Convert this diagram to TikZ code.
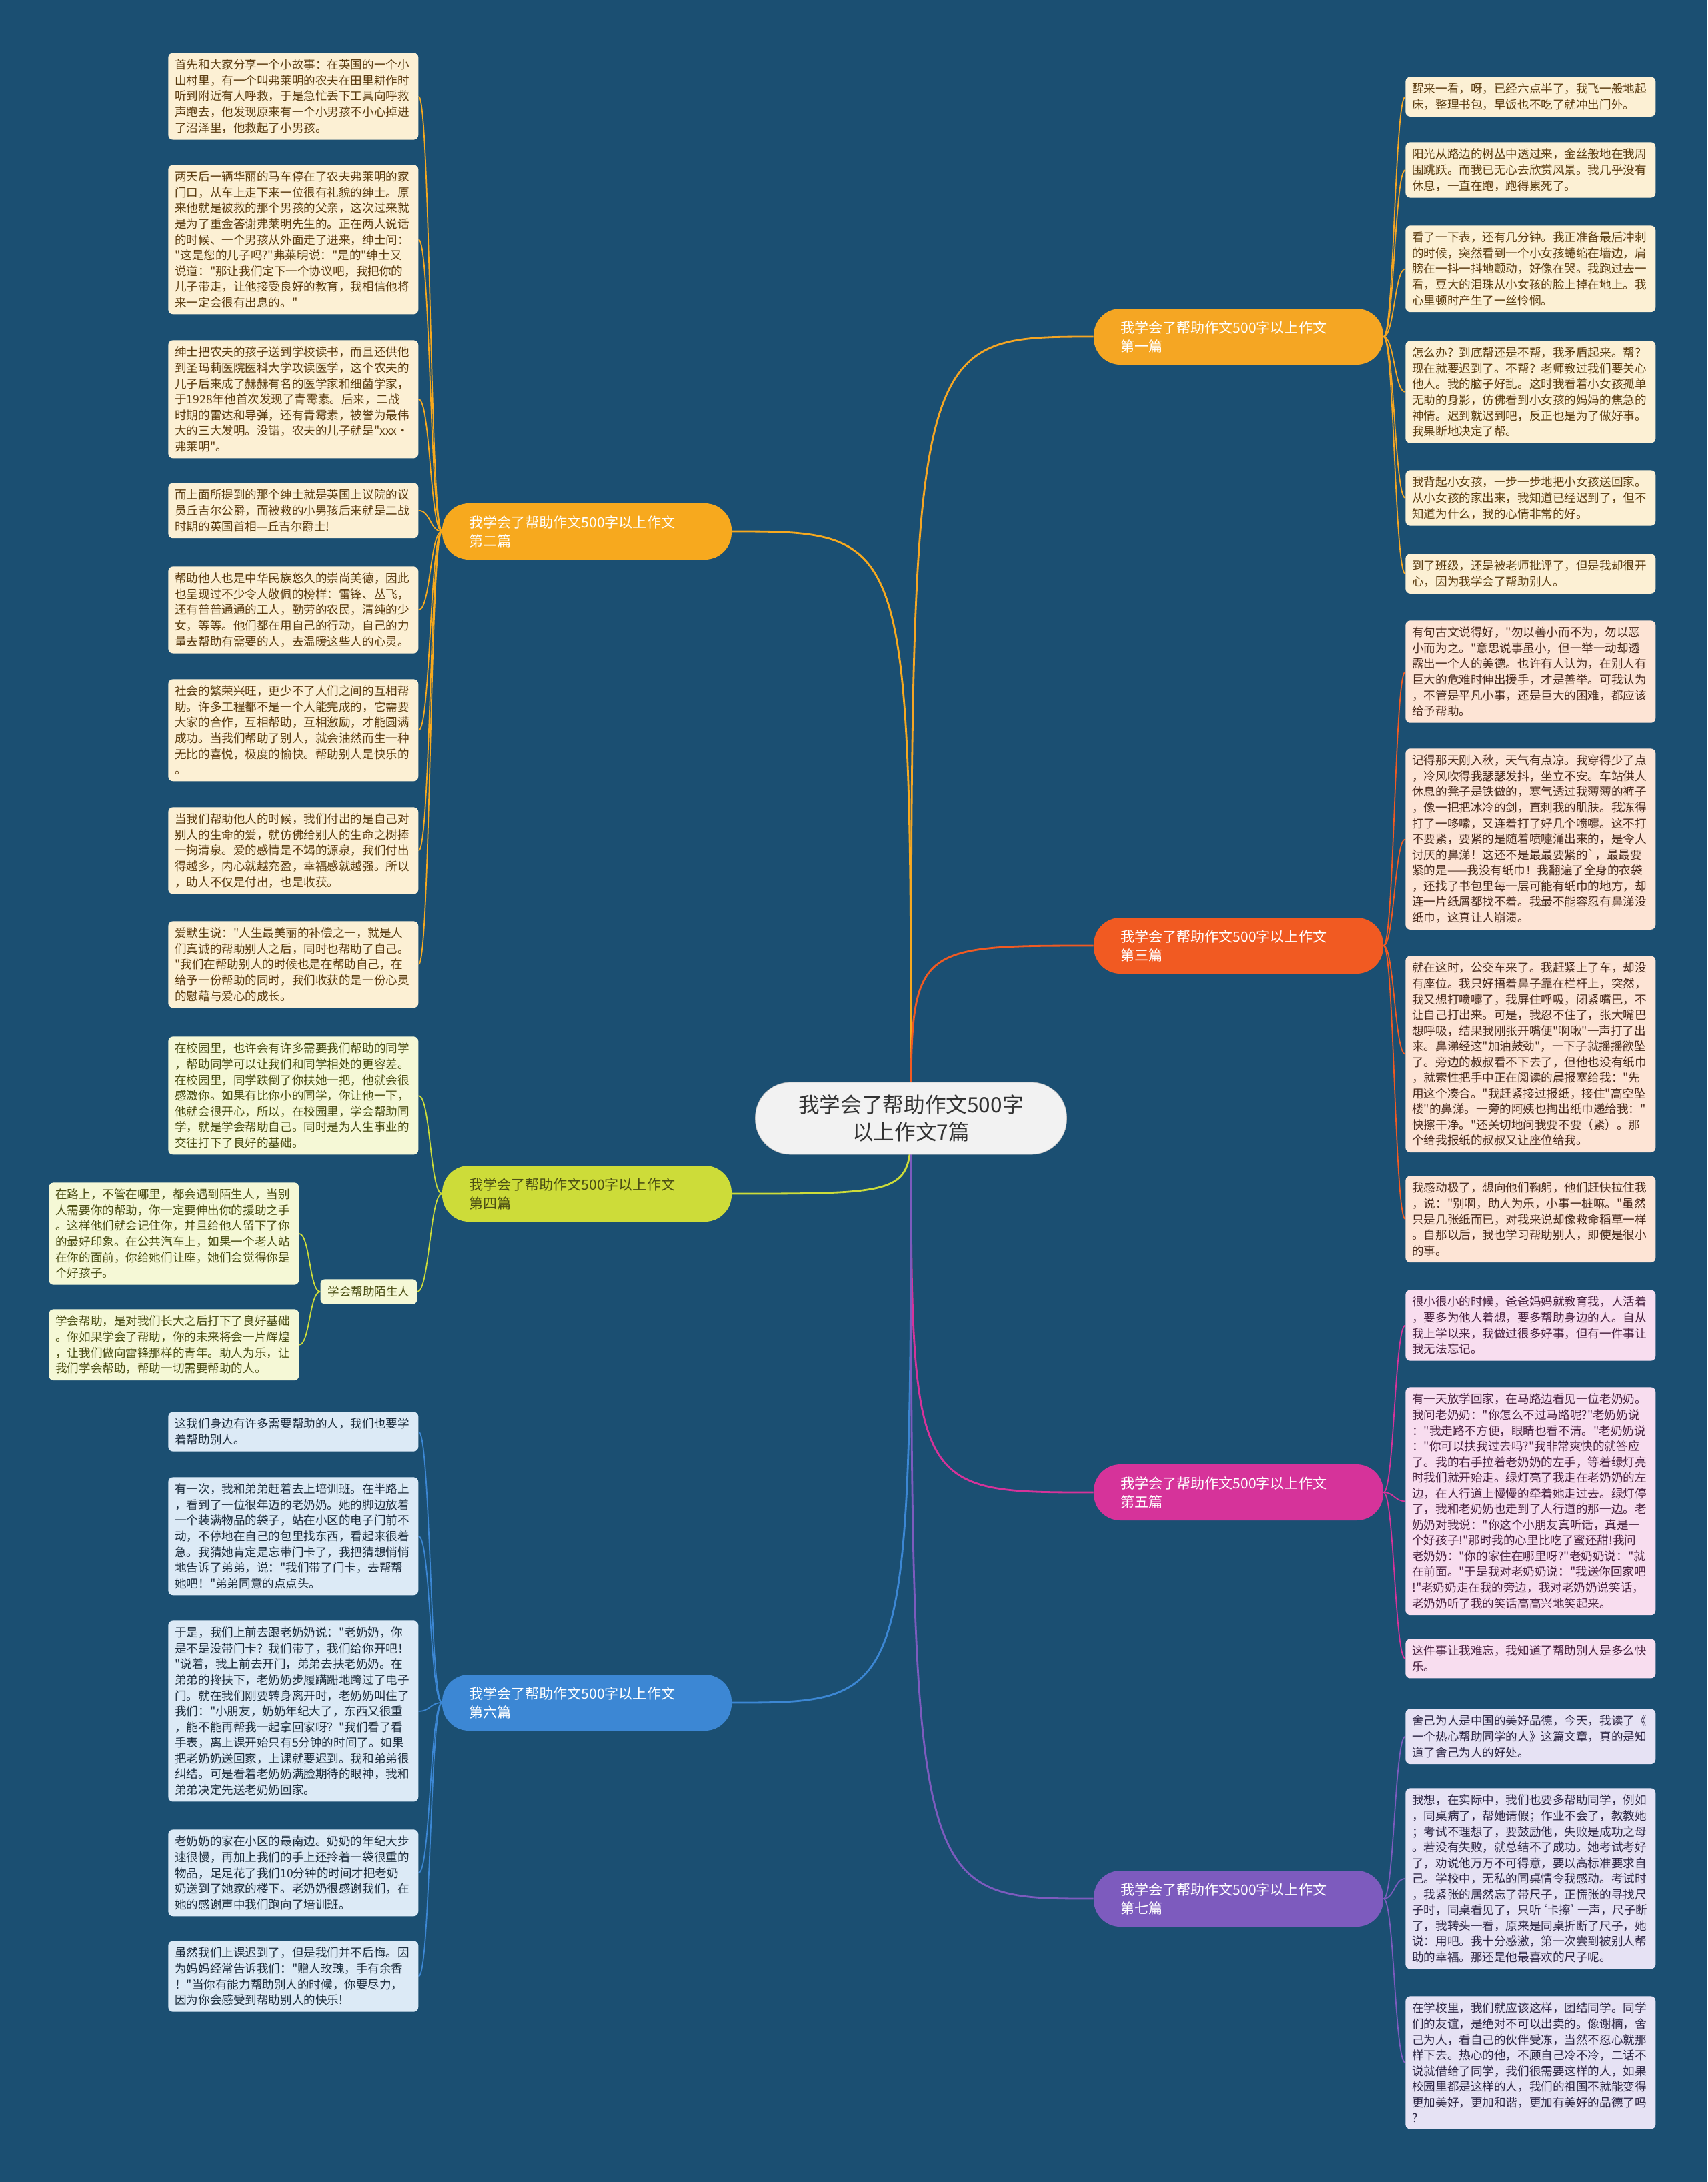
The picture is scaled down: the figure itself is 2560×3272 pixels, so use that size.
\documentclass[tikz,border=0pt]{standalone}
\usepackage{fontspec}
\setmainfont{Noto Sans CJK SC}[Ligatures=TeXOff]
\definecolor{bgblue}{HTML}{1B4F72}
\definecolor{rootfill}{HTML}{F2F2F2}
\definecolor{roottext}{HTML}{333333}
\definecolor{c1}{HTML}{F5A623}
\definecolor{c2}{HTML}{F7A91E}
\definecolor{c3}{HTML}{F15A22}
\definecolor{c4}{HTML}{CDDC39}
\definecolor{c5}{HTML}{D6339A}
\definecolor{c6}{HTML}{3C87D4}
\definecolor{c7}{HTML}{7D5BBE}
\definecolor{fillA}{HTML}{FCF0D4}
\definecolor{textA}{HTML}{5C3D11}
\definecolor{fillC}{HTML}{FDE4D5}
\definecolor{textC}{HTML}{4A2C1F}
\definecolor{fillD}{HTML}{F5F8D6}
\definecolor{textD}{HTML}{4B4E14}
\definecolor{fillE}{HTML}{F8DDEF}
\definecolor{textE}{HTML}{4A2341}
\definecolor{fillF}{HTML}{DCEAF6}
\definecolor{textF}{HTML}{1F2F3F}
\definecolor{fillG}{HTML}{E6E2F4}
\definecolor{textG}{HTML}{2F2846}
\pgfdeclarelayer{edges}
\pgfsetlayers{edges,main}
\tikzset{
  leaf/.style={anchor=north west, rounded corners=4pt, text width=7.1cm,
    inner xsep=0.2cm, inner ysep=5.5pt, align=left,
    font=\fontsize{10}{13.4}\selectfont},
  leafA/.style={leaf, fill=fillA, text=textA},
  leafC/.style={leaf, fill=fillC, text=textC},
  leafD/.style={leaf, fill=fillD, text=textD},
  leafE/.style={leaf, fill=fillE, text=textE},
  leafF/.style={leaf, fill=fillF, text=textF},
  leafG/.style={leaf, fill=fillG, text=textG},
  topic/.style={minimum width=8.68cm, minimum height=1.68cm, rounded corners=0.8cm,
    text width=7.08cm, inner xsep=0.8cm, align=left,
    font=\fontsize{12}{16}\selectfont, text=white},
  root/.style={fill=rootfill, draw=gray!50, minimum width=9.34cm, minimum height=2.16cm,
    rounded corners=1.05cm, align=center, text=roottext,
    font=\fontsize{18}{23}\selectfont},
  trunk/.style={line width=1.6pt},
  twig/.style={line width=1pt},
}
\begin{document}
\begin{tikzpicture}[x=0.02cm, y=-0.02cm]
\useasboundingbox (0,0) rectangle (2560,3272);
\begin{pgfonlayer}{edges}
\fill[bgblue] (0,0) rectangle (2560,3272);
\end{pgfonlayer}

\node[root] (r) at (1366,1677) {我学会了帮助作文500字\\以上作文7篇};

\node[topic, fill=c1] (p1) at (1857,505) {我学会了帮助作文500字以上作文\\第一篇};
\node[topic, fill=c2] (p2) at (880,797) {我学会了帮助作文500字以上作文\\第二篇};
\node[topic, fill=c3] (p3) at (1857,1418) {我学会了帮助作文500字以上作文\\第三篇};
\node[topic, fill=c4, text=textD] (p4) at (880,1790) {我学会了帮助作文500字以上作文\\第四篇};
\node[topic, fill=c5] (p5) at (1857,2238) {我学会了帮助作文500字以上作文\\第五篇};
\node[topic, fill=c6] (p6) at (880,2553) {我学会了帮助作文500字以上作文\\第六篇};
\node[topic, fill=c7] (p7) at (1857,2847) {我学会了帮助作文500字以上作文\\第七篇};

% 第一篇
\node[leafA] (p1-1) at (2107,115) {醒来一看，呀，已经六点半了，我飞一般地起\\床，整理书包，早饭也不吃了就冲出门外。};
\node[leafA] (p1-2) at (2107,213) {阳光从路边的树丛中透过来，金丝般地在我周\\围跳跃。而我已无心去欣赏风景。我几乎没有\\休息，一直在跑，跑得累死了。};
\node[leafA] (p1-3) at (2107,338) {看了一下表，还有几分钟。我正准备最后冲刺\\的时候，突然看到一个小女孩蜷缩在墙边，肩\\膀在一抖一抖地颤动，好像在哭。我跑过去一\\看，豆大的泪珠从小女孩的脸上掉在地上。我\\心里顿时产生了一丝怜悯。};
\node[leafA] (p1-4) at (2107,511) {怎么办？到底帮还是不帮，我矛盾起来。帮？\\现在就要迟到了。不帮？老师教过我们要关心\\他人。我的脑子好乱。这时我看着小女孩孤单\\无助的身影，仿佛看到小女孩的妈妈的焦急的\\神情。迟到就迟到吧，反正也是为了做好事。\\我果断地决定了帮。};
\node[leafA] (p1-5) at (2107,705) {我背起小女孩，一步一步地把小女孩送回家。\\从小女孩的家出来，我知道已经迟到了，但不\\知道为什么，我的心情非常的好。};
\node[leafA] (p1-6) at (2107,830) {到了班级，还是被老师批评了，但是我却很开\\心，因为我学会了帮助别人。};

% 第二篇
\node[leafA] (p2-1) at (252,79) {首先和大家分享一个小故事：在英国的一个小\\山村里，有一个叫弗莱明的农夫在田里耕作时\\听到附近有人呼救，于是急忙丢下工具向呼救\\声跑去，他发现原来有一个小男孩不小心掉进\\了沼泽里，他救起了小男孩。};
\node[leafA] (p2-2) at (252,247) {两天后一辆华丽的马车停在了农夫弗莱明的家\\门口，从车上走下来一位很有礼貌的绅士。原\\来他就是被救的那个男孩的父亲，这次过来就\\是为了重金答谢弗莱明先生的。正在两人说话\\的时候、一个男孩从外面走了进来，绅士问：\\"这是您的儿子吗?"弗莱明说："是的"绅士又\\说道："那让我们定下一个协议吧，我把你的\\儿子带走，让他接受良好的教育，我相信他将\\来一定会很有出息的。"};
\node[leafA] (p2-3) at (252,510) {绅士把农夫的孩子送到学校读书，而且还供他\\到圣玛莉医院医科大学攻读医学，这个农夫的\\儿子后来成了赫赫有名的医学家和细菌学家，\\于1928年他首次发现了青霉素。后来，二战\\时期的雷达和导弹，还有青霉素，被誉为最伟\\大的三大发明。没错，农夫的儿子就是"xxx·\\弗莱明"。};
\node[leafA] (p2-4) at (252,724) {而上面所提到的那个绅士就是英国上议院的议\\员丘吉尔公爵，而被救的小男孩后来就是二战\\时期的英国首相—丘吉尔爵士!};
\node[leafA] (p2-5) at (252,849) {帮助他人也是中华民族悠久的崇尚美德，因此\\也呈现过不少令人敬佩的榜样：雷锋、丛飞，\\还有普普通通的工人，勤劳的农民，清纯的少\\女，等等。他们都在用自己的行动，自己的力\\量去帮助有需要的人，去温暖这些人的心灵。};
\node[leafA] (p2-6) at (252,1018) {社会的繁荣兴旺，更少不了人们之间的互相帮\\助。许多工程都不是一个人能完成的，它需要\\大家的合作，互相帮助，互相激励，才能圆满\\成功。当我们帮助了别人，就会油然而生一种\\无比的喜悦，极度的愉快。帮助别人是快乐的\\。};
\node[leafA] (p2-7) at (252,1210) {当我们帮助他人的时候，我们付出的是自己对\\别人的生命的爱，就仿佛给别人的生命之树捧\\一掬清泉。爱的感情是不竭的源泉，我们付出\\得越多，内心就越充盈，幸福感就越强。所以\\，助人不仅是付出，也是收获。};
\node[leafA] (p2-8) at (252,1381) {爱默生说："人生最美丽的补偿之一，就是人\\们真诚的帮助别人之后，同时也帮助了自己。\\"我们在帮助别人的时候也是在帮助自己，在\\给予一份帮助的同时，我们收获的是一份心灵\\的慰藉与爱心的成长。};

% 第三篇
\node[leafC] (p3-1) at (2107,930) {有句古文说得好，"勿以善小而不为，勿以恶\\小而为之。"意思说事虽小，但一举一动却透\\露出一个人的美德。也许有人认为，在别人有\\巨大的危难时伸出援手，才是善举。可我认为\\，不管是平凡小事，还是巨大的困难，都应该\\给予帮助。};
\node[leafC] (p3-2) at (2107,1122) {记得那天刚入秋，天气有点凉。我穿得少了点\\，冷风吹得我瑟瑟发抖，坐立不安。车站供人\\休息的凳子是铁做的，寒气透过我薄薄的裤子\\，像一把把冰冷的剑，直刺我的肌肤。我冻得\\打了一哆嗦，又连着打了好几个喷嚏。这不打\\不要紧，要紧的是随着喷嚏涌出来的，是令人\\讨厌的鼻涕！这还不是最最要紧的\textasciigrave，最最要\\紧的是——我没有纸巾！我翻遍了全身的衣袋\\，还找了书包里每一层可能有纸巾的地方，却\\连一片纸屑都找不着。我最不能容忍有鼻涕没\\纸巾，这真让人崩溃。};
\node[leafC] (p3-3) at (2107,1433) {就在这时，公交车来了。我赶紧上了车，却没\\有座位。我只好捂着鼻子靠在栏杆上，突然，\\我又想打喷嚏了，我屏住呼吸，闭紧嘴巴，不\\让自己打出来。可是，我忍不住了，张大嘴巴\\想呼吸，结果我刚张开嘴便"啊啾"一声打了出\\来。鼻涕经这"加油鼓劲"，一下子就摇摇欲坠\\了。旁边的叔叔看不下去了，但他也没有纸巾\\，就索性把手中正在阅读的晨报塞给我："先\\用这个凑合。"我赶紧接过报纸，接住"高空坠\\楼"的鼻涕。一旁的阿姨也掏出纸巾递给我："\\快擦干净。"还关切地问我要不要（紧）。那\\个给我报纸的叔叔又让座位给我。};
\node[leafC] (p3-4) at (2107,1763) {我感动极了，想向他们鞠躬，他们赶快拉住我\\，说："别啊，助人为乐，小事一桩嘛。"虽然\\只是几张纸而已，对我来说却像救命稻草一样\\。自那以后，我也学习帮助别人，即使是很小\\的事。};

% 第四篇
\node[leafD] (p4-1) at (252,1554) {在校园里，也许会有许多需要我们帮助的同学\\，帮助同学可以让我们和同学相处的更容差。\\在校园里，同学跌倒了你扶她一把，他就会很\\感激你。如果有比你小的同学，你让他一下，\\他就会很开心，所以，在校园里，学会帮助同\\学，就是学会帮助自己。同时是为人生事业的\\交往打下了良好的基础。};
\node[fill=fillD, text=textD, rounded corners=4pt, inner xsep=0.22cm, inner ysep=6pt,
  font=\fontsize{10}{13.4}\selectfont] (lab) at (553,1937) {学会帮助陌生人};
\node[leafD] (p4-2) at (73,1773) {在路上，不管在哪里，都会遇到陌生人，当别\\人需要你的帮助，你一定要伸出你的援助之手\\。这样他们就会记住你，并且给他人留下了你\\的最好印象。在公共汽车上，如果一个老人站\\在你的面前，你给她们让座，她们会觉得你是\\个好孩子。};
\node[leafD] (p4-3) at (73,1963) {学会帮助，是对我们长大之后打下了良好基础\\。你如果学会了帮助，你的未来将会一片辉煌\\，让我们做向雷锋那样的青年。助人为乐，让\\我们学会帮助，帮助一切需要帮助的人。};

% 第五篇
\node[leafE] (p5-1) at (2107,1934) {很小很小的时候，爸爸妈妈就教育我，人活着\\，要多为他人着想，要多帮助身边的人。自从\\我上学以来，我做过很多好事，但有一件事让\\我无法忘记。};
\node[leafE] (p5-2) at (2107,2080) {有一天放学回家，在马路边看见一位老奶奶。\\我问老奶奶："你怎么不过马路呢?"老奶奶说\\："我走路不方便，眼睛也看不清。"老奶奶说\\："你可以扶我过去吗?"我非常爽快的就答应\\了。我的右手拉着老奶奶的左手，等着绿灯亮\\时我们就开始走。绿灯亮了我走在老奶奶的左\\边，在人行道上慢慢的牵着她走过去。绿灯停\\了，我和老奶奶也走到了人行道的那一边。老\\奶奶对我说："你这个小朋友真听话，真是一\\个好孩子!"那时我的心里比吃了蜜还甜!我问\\老奶奶："你的家住在哪里呀?"老奶奶说："就\\在前面。"于是我对老奶奶说："我送你回家吧\\!"老奶奶走在我的旁边，我对老奶奶说笑话，\\老奶奶听了我的笑话高高兴地笑起来。};
\node[leafE] (p5-3) at (2107,2457) {这件事让我难忘，我知道了帮助别人是多么快\\乐。};

% 第六篇
\node[leafF] (p6-1) at (252,2117) {这我们身边有许多需要帮助的人，我们也要学\\着帮助别人。};
\node[leafF] (p6-2) at (252,2215) {有一次，我和弟弟赶着去上培训班。在半路上\\，看到了一位很年迈的老奶奶。她的脚边放着\\一个装满物品的袋子，站在小区的电子门前不\\动，不停地在自己的包里找东西，看起来很着\\急。我猜她肯定是忘带门卡了，我把猜想悄悄\\地告诉了弟弟，说："我们带了门卡，去帮帮\\她吧！"弟弟同意的点点头。};
\node[leafF] (p6-3) at (252,2430) {于是，我们上前去跟老奶奶说："老奶奶，你\\是不是没带门卡？我们带了，我们给你开吧！\\"说着，我上前去开门，弟弟去扶老奶奶。在\\弟弟的搀扶下，老奶奶步履蹒跚地跨过了电子\\门。就在我们刚要转身离开时，老奶奶叫住了\\我们："小朋友，奶奶年纪大了，东西又很重\\，能不能再帮我一起拿回家呀？"我们看了看\\手表，离上课开始只有5分钟的时间了。如果\\把老奶奶送回家，上课就要迟到。我和弟弟很\\纠结。可是看着老奶奶满脸期待的眼神，我和\\弟弟决定先送老奶奶回家。};
\node[leafF] (p6-4) at (252,2743) {老奶奶的家在小区的最南边。奶奶的年纪大步\\速很慢，再加上我们的手上还拎着一袋很重的\\物品，足足花了我们10分钟的时间才把老奶\\奶送到了她家的楼下。老奶奶很感谢我们，在\\她的感谢声中我们跑向了培训班。};
\node[leafF] (p6-5) at (252,2910) {虽然我们上课迟到了，但是我们并不后悔。因\\为妈妈经常告诉我们："赠人玫瑰，手有余香\\！"当你有能力帮助别人的时候，你要尽力，\\因为你会感受到帮助别人的快乐!};

% 第七篇
\node[leafG] (p7-1) at (2107,2562) {舍己为人是中国的美好品德，今天，我读了《\\一个热心帮助同学的人》这篇文章，真的是知\\道了舍己为人的好处。};
\node[leafG] (p7-2) at (2107,2681) {我想，在实际中，我们也要多帮助同学，例如\\，同桌病了，帮她请假；作业不会了，教教她\\；考试不理想了，要鼓励他，失败是成功之母\\。若没有失败，就总结不了成功。她考试考好\\了，劝说他万万不可得意，要以高标准要求自\\己。学校中，无私的同桌情令我感动。考试时\\，我紧张的居然忘了带尺子，正慌张的寻找尺\\子时，同桌看见了，只听\kern-0.45em‘卡擦’\kern-0.45em一声，尺子断\\了，我转头一看，原来是同桌折断了尺子，她\\说：用吧。我十分感激，第一次尝到被别人帮\\助的幸福。那还是他最喜欢的尺子呢。};
\node[leafG] (p7-3) at (2107,2993) {在学校里，我们就应该这样，团结同学。同学\\们的友谊，是绝对不可以出卖的。像谢楠，舍\\己为人，看自己的伙伴受冻，当然不忍心就那\\样下去。热心的他，不顾自己冷不冷，二话不\\说就借给了同学，我们很需要这样的人，如果\\校园里都是这样的人，我们的祖国不就能变得\\更加美好，更加和谐，更加有美好的品德了吗\\?};

\begin{pgfonlayer}{edges}
\path[draw,trunk,c1] (r.center) .. controls (r.center |- p1.west) .. (p1.west);
\path[draw,trunk,c2] (r.center) .. controls (r.center |- p2.east) .. (p2.east);
\path[draw,trunk,c3] (r.center) .. controls (r.center |- p3.west) .. (p3.west);
\path[draw,trunk,c4] (r.center) .. controls (r.center |- p4.east) .. (p4.east);
\path[draw,trunk,c5] (r.center) .. controls (r.center |- p5.west) .. (p5.west);
\path[draw,trunk,c6] (r.center) .. controls (r.center |- p6.east) .. (p6.east);
\path[draw,trunk,c7] (r.center) .. controls (r.center |- p7.west) .. (p7.west);

\foreach \i in {1,...,6}
  \path[draw,twig,c1] (p1.east) .. controls +(16,0) and +(-16,0) .. (p1-\i.west);
\foreach \i in {1,...,8}
  \path[draw,twig,c2] (p2.west) .. controls +(-18,0) and +(18,0) .. (p2-\i.east);
\foreach \i in {1,...,4}
  \path[draw,twig,c3] (p3.east) .. controls +(16,0) and +(-16,0) .. (p3-\i.west);
\path[draw,twig,c4] (p4.west) .. controls +(-18,0) and +(18,0) .. (p4-1.east);
\path[draw,twig,c4] (p4.west) .. controls +(-18,0) and +(18,0) .. (lab.east);
\path[draw,twig,c4] (lab.west) .. controls +(-16,0) and +(16,0) .. (p4-2.east);
\path[draw,twig,c4] (lab.west) .. controls +(-16,0) and +(16,0) .. (p4-3.east);
\foreach \i in {1,...,3}
  \path[draw,twig,c5] (p5.east) .. controls +(16,0) and +(-16,0) .. (p5-\i.west);
\foreach \i in {1,...,5}
  \path[draw,twig,c6] (p6.west) .. controls +(-18,0) and +(18,0) .. (p6-\i.east);
\foreach \i in {1,...,3}
  \path[draw,twig,c7] (p7.east) .. controls +(16,0) and +(-16,0) .. (p7-\i.west);
\end{pgfonlayer}
\end{tikzpicture}
\end{document}
